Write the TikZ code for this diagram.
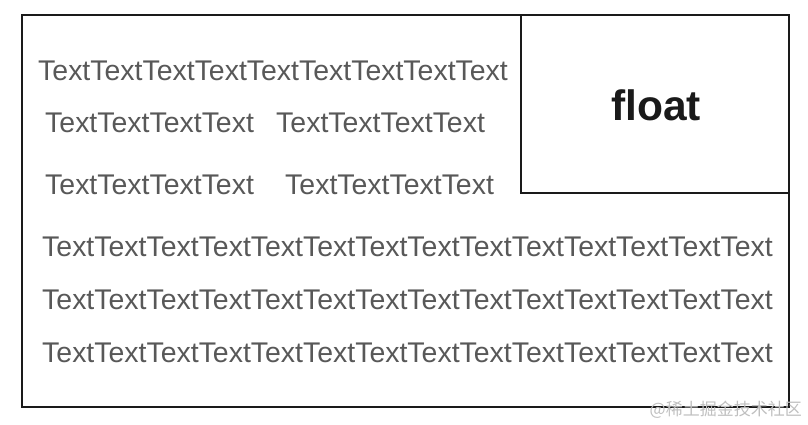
\documentclass[tikz,border=0pt]{standalone}
\usepackage{fontspec}
\setmainfont{Liberation Sans}
\newfontfamily\cjk{Noto Sans CJK SC}
\usetikzlibrary{positioning}
\definecolor{textgray}{HTML}{585858}
\definecolor{linedark}{HTML}{1A1A1A}

\begin{document}
\begin{tikzpicture}[x=1pt,y=-1pt,
  box/.style={draw=linedark,line width=1.6pt},
  txt/.style={inner sep=0pt,anchor=base west,text=textgray,font=\fontsize{28.45}{32}\selectfont},
  floatlabel/.style={inner sep=0pt,text=linedark,font=\bfseries\fontsize{42.5}{48}\selectfont},
  watermark/.style={inner sep=0pt,anchor=base east,text=black!25,font=\cjk\fontsize{17}{20}\selectfont}]
\useasboundingbox (0,0) rectangle (808,424);
\draw[box] (22,15) rectangle (789,407);
\draw[box] (521,15) rectangle (789,193);
\node[floatlabel] (float) at (656,105) {float};
% text around the float
\node[txt] (row1) at (38,80) {TextTextTextTextTextTextTextTextText};
\node[txt] (row2a) at (45,132) {TextTextTextText};
\node[txt] (row2b) at (276,132) {TextTextTextText};
\node[txt] (row3a) at (45,194) {TextTextTextText};
\node[txt] (row3b) at (285,194) {TextTextTextText};
% full width rows
\foreach \y[count=\n] in {256,309,362} {
  \node[txt] (full\n) at (42,\y) {TextTextTextTextTextTextTextTextTextTextTextTextTextText};
}
\node[watermark] (wm) at (802,415) {@稀土掘金技术社区};
\end{tikzpicture}
\end{document}
